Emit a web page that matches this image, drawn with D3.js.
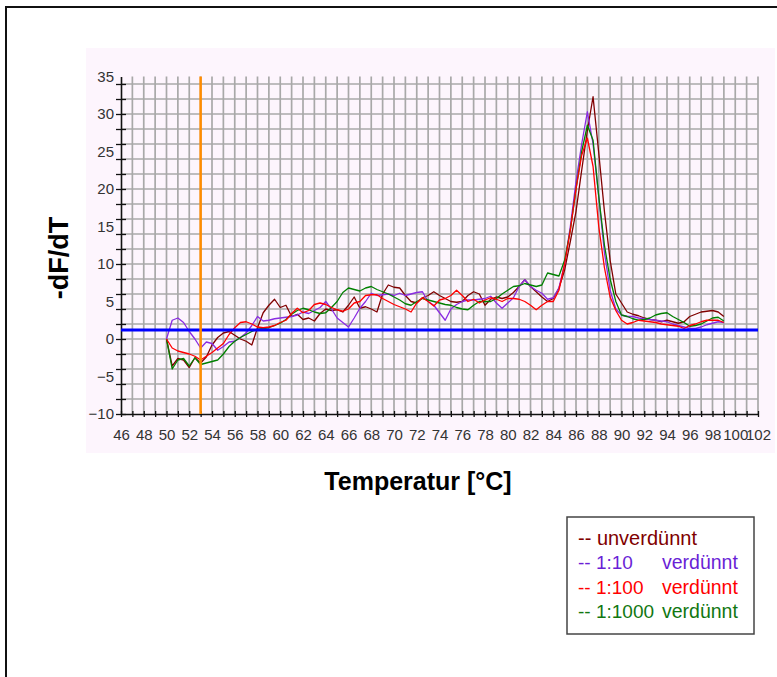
<!DOCTYPE html>
<html><head><meta charset="utf-8">
<script src="https://cdn.jsdelivr.net/npm/d3@7"></script>
<style>
html,body{margin:0;padding:0;background:#fff;}
svg{display:block;font-family:"Liberation Sans",Arial,sans-serif;}
</style></head>
<body>
<svg id="c" width="777" height="677"></svg>
<script>
// ---------- DATA ----------
const temps = d3.range(50, 99.01, 0.5);
const unverduennt = [0.0,-3.6,-2.6,-2.8,-3.8,-2.5,-3.2,-2.4,-0.8,0.2,0.8,1.0,0.5,0.0,-0.3,-0.8,1.5,3.5,4.5,5.3,4.2,4.5,3.0,3.3,2.6,2.8,2.4,3.4,4.0,3.8,3.9,3.6,4.5,5.6,4.1,4.3,4.0,3.6,6.0,7.2,6.9,6.8,5.8,5.0,4.8,5.5,5.8,6.3,5.8,5.4,5.0,4.9,5.0,5.8,6.3,6.0,4.5,5.3,5.6,5.4,5.6,6.2,7.0,7.9,7.0,6.3,5.6,5.0,5.4,6.8,9.2,13.0,17.0,22.5,27.8,32.3,24.8,17.0,10.5,6.0,4.8,3.6,3.3,3.1,2.8,2.6,2.5,2.3,2.5,2.3,2.1,2.3,3.0,3.3,3.6,3.7,3.8,3.6,3.0];
const v1zu10 = [0.0,2.5,2.8,2.2,1.0,0.0,-1.2,-0.4,-0.6,-1.5,-1.0,-0.4,-0.3,0.2,0.8,1.8,3.0,2.4,2.5,2.7,2.8,2.9,3.0,3.2,3.6,3.4,3.8,4.2,5.0,4.0,2.8,2.2,1.6,2.8,4.1,5.0,6.1,5.8,5.9,6.0,5.8,6.1,5.8,6.0,6.2,6.3,5.0,4.5,3.5,2.5,4.0,4.6,5.0,5.2,5.2,5.3,5.4,5.7,4.8,4.1,4.8,5.5,7.0,7.9,7.0,6.5,6.1,5.3,5.5,6.8,10.0,15.0,21.0,26.0,30.3,26.0,19.0,11.5,6.5,4.0,3.2,3.0,3.0,2.8,2.7,2.6,2.5,2.4,2.3,2.0,1.8,1.6,1.4,1.4,1.6,1.9,2.1,2.3,2.2];
const v1zu100 = [0.0,-1.2,-1.6,-1.8,-2.0,-2.3,-2.8,-2.3,-1.8,-1.2,-0.6,0.6,1.5,2.2,2.3,2.0,1.6,1.5,1.6,1.8,2.2,2.5,3.4,4.1,3.5,3.8,4.6,4.8,4.6,4.2,3.9,3.7,4.0,4.8,5.0,5.8,5.9,5.9,5.4,5.0,4.6,4.3,4.0,3.6,4.8,5.5,5.0,4.4,5.2,5.4,5.8,6.5,5.8,5.0,5.3,4.8,5.2,5.5,5.3,5.0,5.4,5.4,5.3,5.0,4.5,3.9,4.5,5.0,5.0,6.5,10.0,14.5,20.0,24.5,26.8,23.0,15.0,9.5,5.6,3.8,2.5,2.0,2.2,2.5,2.4,2.3,2.2,2.0,1.9,1.8,1.7,1.4,1.8,2.0,2.3,2.5,2.5,2.5,2.2];
const v1zu1000 = [0.0,-4.0,-2.8,-2.6,-3.6,-2.5,-3.4,-3.2,-3.0,-2.8,-2.0,-1.0,-0.3,0.2,0.6,1.0,1.3,1.4,1.5,1.8,2.1,2.6,3.3,3.8,4.1,3.9,3.6,3.4,3.5,4.2,5.0,6.2,6.8,6.6,6.4,6.8,7.0,6.6,6.3,6.0,5.6,5.2,4.7,4.5,5.0,5.4,5.2,5.0,4.8,4.6,4.5,4.2,4.0,3.9,4.5,5.0,5.0,5.0,5.4,6.0,6.5,7.0,7.1,7.4,7.2,7.0,7.2,8.8,8.6,8.4,10.5,14.5,20.0,25.0,28.5,26.5,19.0,12.5,8.0,5.0,3.2,3.0,2.7,2.5,2.6,2.8,3.2,3.4,3.5,3.0,2.6,2.2,1.7,1.8,2.0,2.4,2.8,2.9,2.4];
const seriesNames = ["unverdünnt","1:10","1:100","1:1000"];
const seriesColors = ["#800000","#8a2be2","#ff0000","#008000"];
const legendColors = ["#800000","#6a1fd6","#ff0000","#117711"];
const legendLabels = ["-- unverdünnt","-- 1:10","-- 1:100","-- 1:1000"];
const xTickLabels = d3.range(46, 103, 2);
const yTickLabels = [-10,-5,0,5,10,15,20,25,30,35];
const threshold = 1.2;
const markerTemp = 53;
const xTitle = "Temperatur [°C]";
const yTitle = "-dF/dT";

// ---------- CHART ----------
const svg = d3.select("#c");
const x = d3.scaleLinear().domain([46,102]).range([121,758]);
const y = d3.scaleLinear().domain([-10,35]).range([414,76.5]);

// outer frame
svg.append("rect").attr("x",6).attr("y",7).attr("width",800).attr("height",700)
  .attr("fill","#fff").attr("stroke","#111").attr("stroke-width",2);
// pink panel
svg.append("rect").attr("x",86).attr("y",48).attr("width",689).attr("height",405).attr("fill","#fdf5fd");

// grid
const g = svg.append("g");
g.selectAll("line.v").data(d3.range(47,103)).join("line")
  .attr("x1",d=>x(d)).attr("x2",d=>x(d)).attr("y1",y(35)).attr("y2",y(-10))
  .attr("stroke","#a8a8a8").attr("stroke-width",1.7);
g.selectAll("line.h").data(d3.range(-8,35,2)).join("line")
  .attr("y1",d=>y(d)).attr("y2",d=>y(d)).attr("x1",x(46)).attr("x2",x(102))
  .attr("stroke","#a8a8a8").attr("stroke-width",1.7);

// axes ticks (crossing)
const yEven = d3.range(-10,35,2);
const xInt = d3.range(46,103,1);
svg.append("g").attr("transform",`translate(${x(46)},0)`)
  .call(d3.axisLeft(y).tickValues(yEven).tickSize(5).tickFormat("").tickSizeOuter(0))
  .call(a=>a.selectAll("line").attr("stroke","#111").attr("stroke-width",1.3))
  .call(a=>a.select(".domain").attr("stroke","#111").attr("stroke-width",1.6));
svg.append("g").attr("transform",`translate(${x(46)},0)`)
  .call(d3.axisRight(y).tickValues(yEven).tickSize(5).tickFormat("").tickSizeOuter(0))
  .call(a=>a.selectAll("line").attr("stroke","#111").attr("stroke-width",1.3))
  .call(a=>a.select(".domain").remove());
svg.append("g").attr("transform",`translate(0,${y(-10)})`)
  .call(d3.axisBottom(x).tickValues(xInt).tickSize(3).tickFormat("").tickSizeOuter(0))
  .call(a=>a.selectAll("line").attr("stroke","#111").attr("stroke-width",1.3))
  .call(a=>a.select(".domain").attr("stroke","#111").attr("stroke-width",1.6));
svg.append("g").attr("transform",`translate(0,${y(-10)})`)
  .call(d3.axisTop(x).tickValues(xInt).tickSize(3).tickFormat("").tickSizeOuter(0))
  .call(a=>a.selectAll("line").attr("stroke","#111").attr("stroke-width",1.3))
  .call(a=>a.select(".domain").remove());

// tick labels
svg.append("g").attr("transform",`translate(${x(46)},0)`)
  .call(d3.axisLeft(y).tickValues(yTickLabels).tickSize(0).tickPadding(7))
  .call(a=>a.select(".domain").remove())
  .call(a=>a.selectAll("text").attr("font-size",15).attr("fill","#333")
        .attr("font-family","'Liberation Sans',Arial,sans-serif"));
svg.append("g").attr("transform",`translate(0,${y(-10)})`)
  .call(d3.axisBottom(x).tickValues(xTickLabels).tickSize(0).tickPadding(15))
  .call(a=>a.select(".domain").remove())
  .call(a=>a.selectAll("text").attr("font-size",15).attr("fill","#333")
        .attr("font-family","'Liberation Sans',Arial,sans-serif"));

// curves
const allSeries = [unverduennt, v1zu10, v1zu100, v1zu1000];
const line = d3.line().x((d,i)=>x(temps[i])).y(d=>y(d));
const order = [0,1,3,2];
order.forEach(k=>{
  svg.append("path").datum(allSeries[k]).attr("d",line)
    .attr("fill","none").attr("stroke",seriesColors[k]).attr("stroke-width",1.3)
    .attr("stroke-linejoin","round");
});

// threshold & marker
svg.append("line").attr("x1",x(46)).attr("x2",x(102)).attr("y1",y(threshold)).attr("y2",y(threshold))
  .attr("stroke","#0000ff").attr("stroke-width",3);
svg.append("line").attr("x1",x(markerTemp)).attr("x2",x(markerTemp)).attr("y1",y(35)).attr("y2",y(-10))
  .attr("stroke","#ff8c00").attr("stroke-width",2.5);

// titles
svg.append("text").attr("x",418).attr("y",490).attr("text-anchor","middle")
  .attr("font-size",25).attr("font-weight","bold").attr("fill","#000").text(xTitle);
svg.append("text").attr("transform","translate(68,258) rotate(-90)").attr("text-anchor","middle")
  .attr("font-size",27).attr("font-weight","bold").attr("fill","#000").text(yTitle);

// legend
const lg = svg.append("g");
lg.append("rect").attr("x",567).attr("y",517).attr("width",187).attr("height",117)
  .attr("fill","#fff").attr("stroke","#444").attr("stroke-width",1.5);
legendLabels.forEach((t,i)=>{
  const tx = lg.append("text").attr("x",578).attr("y",545+i*24.3).attr("font-size",i===0?20:19)
    .attr("fill",legendColors[i]);
  tx.append("tspan").text(t);
  if(i>0) tx.append("tspan").attr("x",662).attr("font-size",19.5).text("verdünnt");
});
</script>
</body></html>
